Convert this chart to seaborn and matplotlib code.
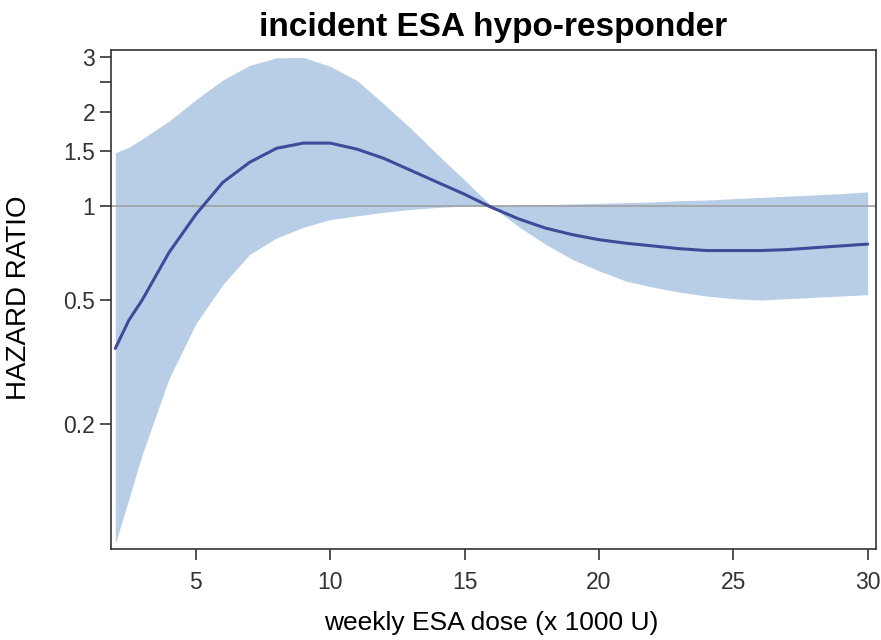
import numpy as np
import pandas as pd
import seaborn as sns
import matplotlib.pyplot as plt

# weekly ESA dose (x 1000 U)
dose = [2, 2.5, 3, 4, 5, 6, 7, 8, 9, 10, 11, 12, 13, 14, 15, 16, 17, 18, 19, 20,
        21, 22, 23, 24, 25, 26, 27, 28, 29, 30]
# hazard ratio and 95% CI
hr = [0.35, 0.43, 0.50, 0.71, 0.94, 1.19, 1.38, 1.53, 1.59, 1.59, 1.52, 1.42, 1.30,
      1.19, 1.09, 0.99, 0.91, 0.85, 0.81, 0.78, 0.76, 0.745, 0.73, 0.72, 0.72, 0.72,
      0.725, 0.735, 0.745, 0.755]
upper = [1.48, 1.54, 1.64, 1.87, 2.19, 2.53, 2.82, 2.98, 2.99, 2.80, 2.52, 2.12, 1.77,
         1.46, 1.21, 1.00, 1.01, 1.01, 1.015, 1.02, 1.025, 1.03, 1.04, 1.045, 1.055,
         1.065, 1.075, 1.085, 1.095, 1.11]
lower = [0.083, 0.115, 0.16, 0.28, 0.42, 0.56, 0.70, 0.79, 0.855, 0.905, 0.93, 0.955,
         0.975, 0.99, 0.998, 1.0, 0.86, 0.755, 0.675, 0.62, 0.575, 0.55, 0.53, 0.515,
         0.505, 0.50, 0.505, 0.51, 0.515, 0.52]

yticks = [0.2, 0.5, 1, 1.5, 2, 3]
ytick_labels = ['0.2', '0.5', '1', '1.5', '2', '3']
xticks = [5, 10, 15, 20, 25, 30]

df = pd.DataFrame({'dose': dose, 'hr': hr, 'lower': lower, 'upper': upper})

sns.set_style('ticks')
plt.rcParams['font.family'] = ['Liberation Sans', 'DejaVu Sans']

fig = plt.figure(figsize=(8.81, 6.4), dpi=100)
ax = fig.add_axes([0.126, 0.142, 0.868, 0.780])

ax.fill_between(df['dose'], df['lower'], df['upper'], color='#b8cee6', lw=0)
ax.axhline(1, color='#a0a0a0', lw=1.2)
sns.lineplot(data=df, x='dose', y='hr', ax=ax, color='#3d4c99', lw=2.2)

ax.set_yscale('log')
ax.set_ylim(0.0797, 3.16)
ax.set_xlim(1.84, 30.3)
ax.set_yticks(yticks)
ax.set_yticklabels(ytick_labels)
ax.set_yticks([2.5], minor=True)
ax.set_yticklabels([''], minor=True)
ax.set_xticks(xticks)

ax.tick_params(axis='both', which='both', length=8, width=1.2, color='#333333',
               labelsize=16.5, labelcolor='#333333')
ax.tick_params(axis='x', pad=8)
for s in ax.spines.values():
    s.set_color('#333333')
    s.set_linewidth(1.2)

ax.set_xlabel('weekly ESA dose (x 1000 U)', fontsize=19, color='black')
ax.set_ylabel('HAZARD RATIO', fontsize=20, color='black')
ax.xaxis.set_label_coords(0.497, -0.124)
ax.yaxis.set_label_coords(-0.103, 0.503)
ax.set_title('incident ESA hypo-responder', fontsize=24, fontweight='bold',
             pad=10, color='black')

fig.savefig('out.png', dpi=100)
